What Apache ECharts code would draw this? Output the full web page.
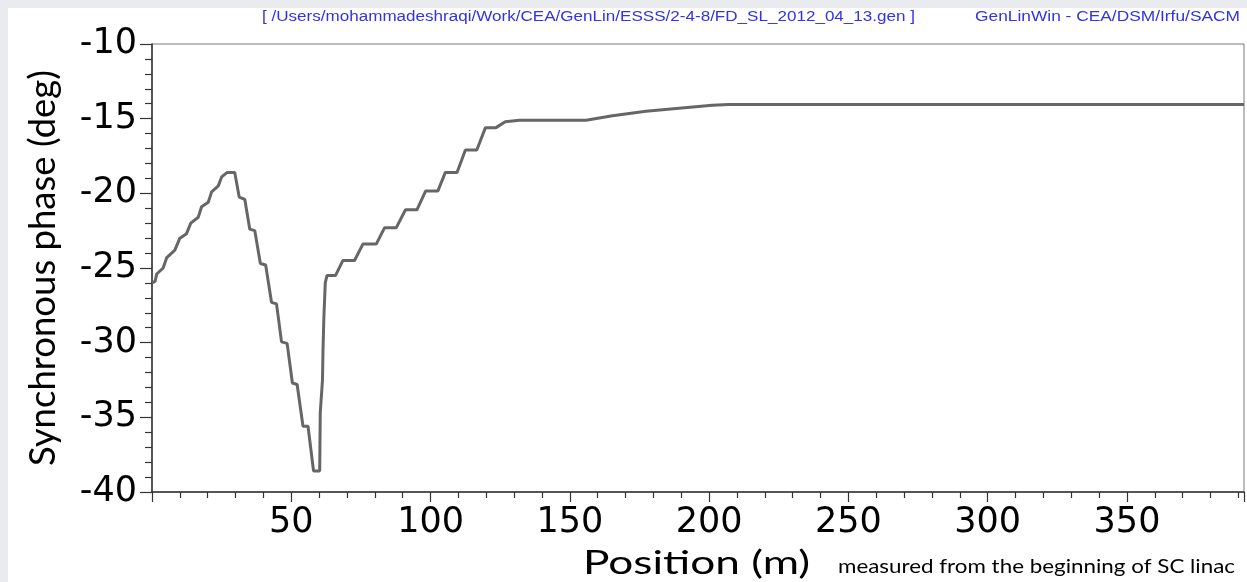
<!DOCTYPE html>
<html><head><meta charset="utf-8">
<script src="https://cdn.jsdelivr.net/npm/echarts@6/dist/echarts.min.js"></script>
<style>html,body{margin:0;padding:0;background:#e9ebee;}#chart{width:1247px;height:582px;}</style>
</head><body><div id="chart"></div>
<script>
// ---- data ----
const positions = [0, 1.1, 1.7, 4.0, 5.3, 8.2, 10.0, 12.4, 13.9, 16.6, 17.8, 20.2, 21.4, 23.8, 25.0, 27.0, 29.7,
  31.3, 33.3, 35.1, 36.9, 38.9, 40.8, 42.9, 44.7, 46.5, 48.5, 50.4, 52.1, 54.2, 56.0, 58.0, 60.2,
  60.4, 61.2, 61.4, 61.7, 62.2, 62.8, 65.9, 68.5, 72.7, 75.7, 80.5, 83.5, 87.7, 91.0, 95.1, 98.2,
  102.6, 105.3, 109.5, 112.5, 116.6, 119.7, 123.5, 126.8, 131.9, 155.8, 165.3, 177.3, 189.2, 201.1, 207.1, 392];
const phases = [-26.0, -25.9, -25.4, -25.0, -24.3, -23.8, -23.0, -22.7, -22.0, -21.6, -20.9, -20.6, -19.9, -19.5, -18.9, -18.6, -18.6,
  -20.25, -20.4, -22.4, -22.5, -24.7, -24.8, -27.3, -27.4, -29.95, -30.05, -32.7, -32.8, -35.6, -35.6, -38.6, -38.6,
  -34.7, -32.5, -30.4, -28.3, -26.0, -25.5, -25.5, -24.5, -24.5, -23.4, -23.4, -22.3, -22.3, -21.1, -21.1, -19.85,
  -19.85, -18.6, -18.6, -17.1, -17.1, -15.6, -15.6, -15.2, -15.1, -15.1, -14.8, -14.5, -14.3, -14.1, -14.05, -14.05];
const xTickLabels = ['50', '100', '150', '200', '250', '300', '350'];
const yTickLabels = ['-40', '-35', '-30', '-25', '-20', '-15', '-10'];
const yTitle = 'Synchronous phase (deg)';
const xTitle = 'Position (m)';
const xSubtitle = 'measured from the beginning of SC linac';
const headerPath = '[ /Users/mohammadeshraqi/Work/CEA/GenLin/ESSS/2-4-8/FD_SL_2012_04_13.gen ]';
const headerApp = 'GenLinWin - CEA/DSM/Irfu/SACM';

// ---- helpers ----
const measureCtx = document.createElement('canvas').getContext('2d');
function fitScale(text, font, width) {
  measureCtx.font = font;
  return width / measureCtx.measureText(text).width;
}
function stretchedText(text, font, left, cy, width, color) {
  return {
    type: 'text', x: left, y: cy, scaleX: fitScale(text, font, width), silent: true, z: 10,
    style: { text: text, font: font, fill: color, x: 0, y: 0,
      textAlign: 'left', textVerticalAlign: 'middle', align: 'left', verticalAlign: 'middle' }
  };
}

const seriesData = positions.map((p, i) => [p, phases[i]]);
const tickFont = 'DejaVu Sans';

const chart = echarts.init(document.getElementById('chart'), null, { renderer: 'canvas' });
chart.setOption({
  animation: false,
  backgroundColor: '#e9ebee',
  graphic: [
    { type: 'rect', shape: { x: 8, y: 8, width: 1239, height: 574 }, style: { fill: '#ffffff' }, z: -10, silent: true },
    stretchedText(headerPath, '14px "Liberation Sans"', 262, 17, 653, '#3232e6'),
    stretchedText(headerApp, '14px "Liberation Sans"', 975, 17, 265, '#3232e6'),
    stretchedText(xTitle, '33px Lato', 583, 563, 227, '#000000'),
    stretchedText(xSubtitle, '19px Lato', 838, 567, 397, '#000000')
  ],
  grid: {
    left: 152, top: 44, width: 1094, height: 448,
    show: true, backgroundColor: '#ffffff', borderColor: '#7a7a7a', borderWidth: 1
  },
  xAxis: {
    type: 'value', min: 0, max: 392, interval: 50,
    axisLine: { show: true, onZero: false, lineStyle: { color: '#333333', width: 1.5 } },
    axisTick: { show: true, inside: false, length: 10, lineStyle: { color: '#333333', width: 1.2 } },
    minorTick: { show: true, splitNumber: 5, length: 6, lineStyle: { color: '#333333', width: 1.2 } },
    splitLine: { show: false },
    axisLabel: {
      fontFamily: tickFont, fontSize: 35, color: '#000000', margin: 13,
      formatter: v => (xTickLabels.indexOf(String(v)) >= 0 ? String(v) : '')
    }
  },
  yAxis: {
    type: 'value', min: -40, max: -10, interval: 5,
    name: yTitle, nameLocation: 'middle', nameGap: 90, nameRotate: 90,
    nameTextStyle: { fontFamily: 'Lato', fontSize: 36.5, color: '#000000' },
    axisLine: { show: true, onZero: false, lineStyle: { color: '#333333', width: 1.5 } },
    axisTick: { show: true, inside: false, length: 12, lineStyle: { color: '#333333', width: 1.2 } },
    minorTick: { show: true, splitNumber: 5, length: 7, lineStyle: { color: '#333333', width: 1.2 } },
    splitLine: { show: false },
    axisLabel: {
      fontFamily: tickFont, fontSize: 35, color: '#000000', margin: 15, padding: [6, 0, 0, 0],
      formatter: v => (yTickLabels.indexOf(String(v)) >= 0 ? String(v) : '')
    }
  },
  series: [{
    type: 'line', data: seriesData, showSymbol: false, symbol: 'none',
    lineStyle: { color: '#666666', width: 3 }, clip: true
  }]
});
</script>
</body></html>
